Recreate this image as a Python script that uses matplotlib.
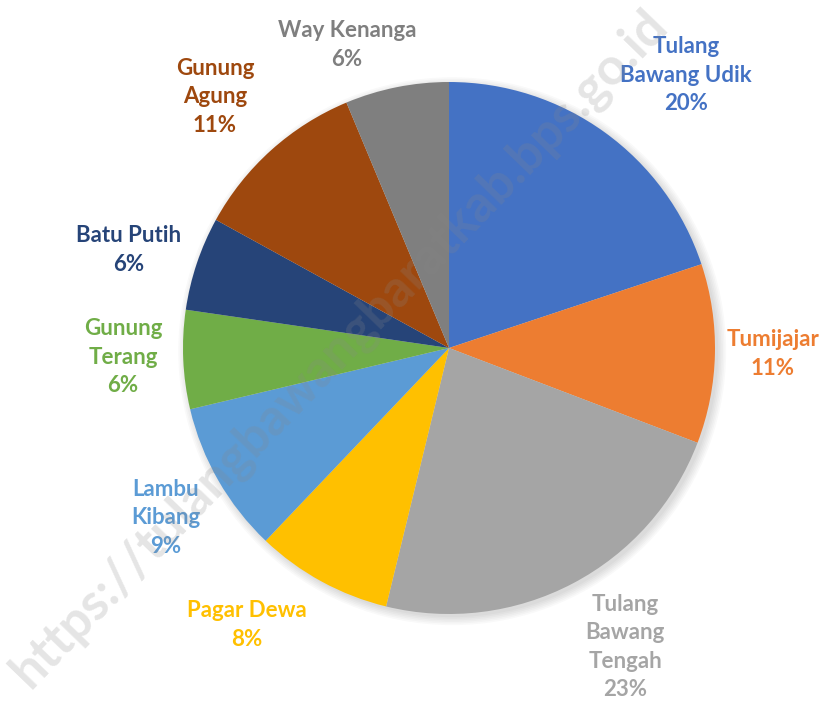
import numpy as np
import matplotlib.pyplot as plt

# data
names = ['Tulang\nBawang Udik', 'Tumijajar', 'Tulang\nBawang\nTengah', 'Pagar Dewa',
         'Lambu\nKibang', 'Gunung\nTerang', 'Batu Putih', 'Gunung\nAgung', 'Way Kenanga']
shares = [19.9, 10.9, 23.0, 8.3, 9.2, 6.0, 5.7, 10.7, 6.3]
colors = ['#4472C4', '#ED7D31', '#A5A5A5', '#FFC000', '#5B9BD5',
          '#70AD47', '#264478', '#9E480E', '#7F7F7F']

# label spots (in pie radius units)
label_xy = [(0.891, 1.026), (1.218, -0.023), (0.662, -1.124), (-0.759, -1.041),
            (-1.064, -0.639), (-1.226, -0.034), (-1.203, 0.368), (-0.880, 0.944),
            (-0.383, 1.139)]

plt.rcParams['font.family'] = ['Lato', 'DejaVu Sans']

fig = plt.figure(figsize=(8.29, 7.07), dpi=100)
ax = fig.add_axes([0, 0, 1, 1])

# soft shadow
for k in range(6):
    ax.add_patch(plt.Circle((0.012, -0.012), 1.0 + 0.006 * k, color='black',
                            alpha=0.025, lw=0, zorder=0))

ax.pie(shares, colors=colors, startangle=90, counterclock=False, radius=1.0,
       wedgeprops=dict(linewidth=0), center=(0, 0))

for name, val, col, (lx, ly) in zip(names, shares, colors, label_xy):
    ax.text(lx, ly, '%s\n%d%%' % (name, round(val)), color=col, fontsize=16,
            fontweight='bold', ha='center', va='center', linespacing=1.45)

ax.text(-0.41, 0.0, 'https://tulangbawangbaratkab.bps.go.id', rotation=46,
        fontsize=37, fontweight='bold', color='#888888', alpha=0.22,
        ha='center', va='center', zorder=10)

ax.set_xlim(-449 / 266, 380 / 266)
ax.set_ylim(-359 / 266, 348 / 266)
ax.set_aspect('auto')
ax.axis('off')

plt.savefig('out.png', dpi=100)
